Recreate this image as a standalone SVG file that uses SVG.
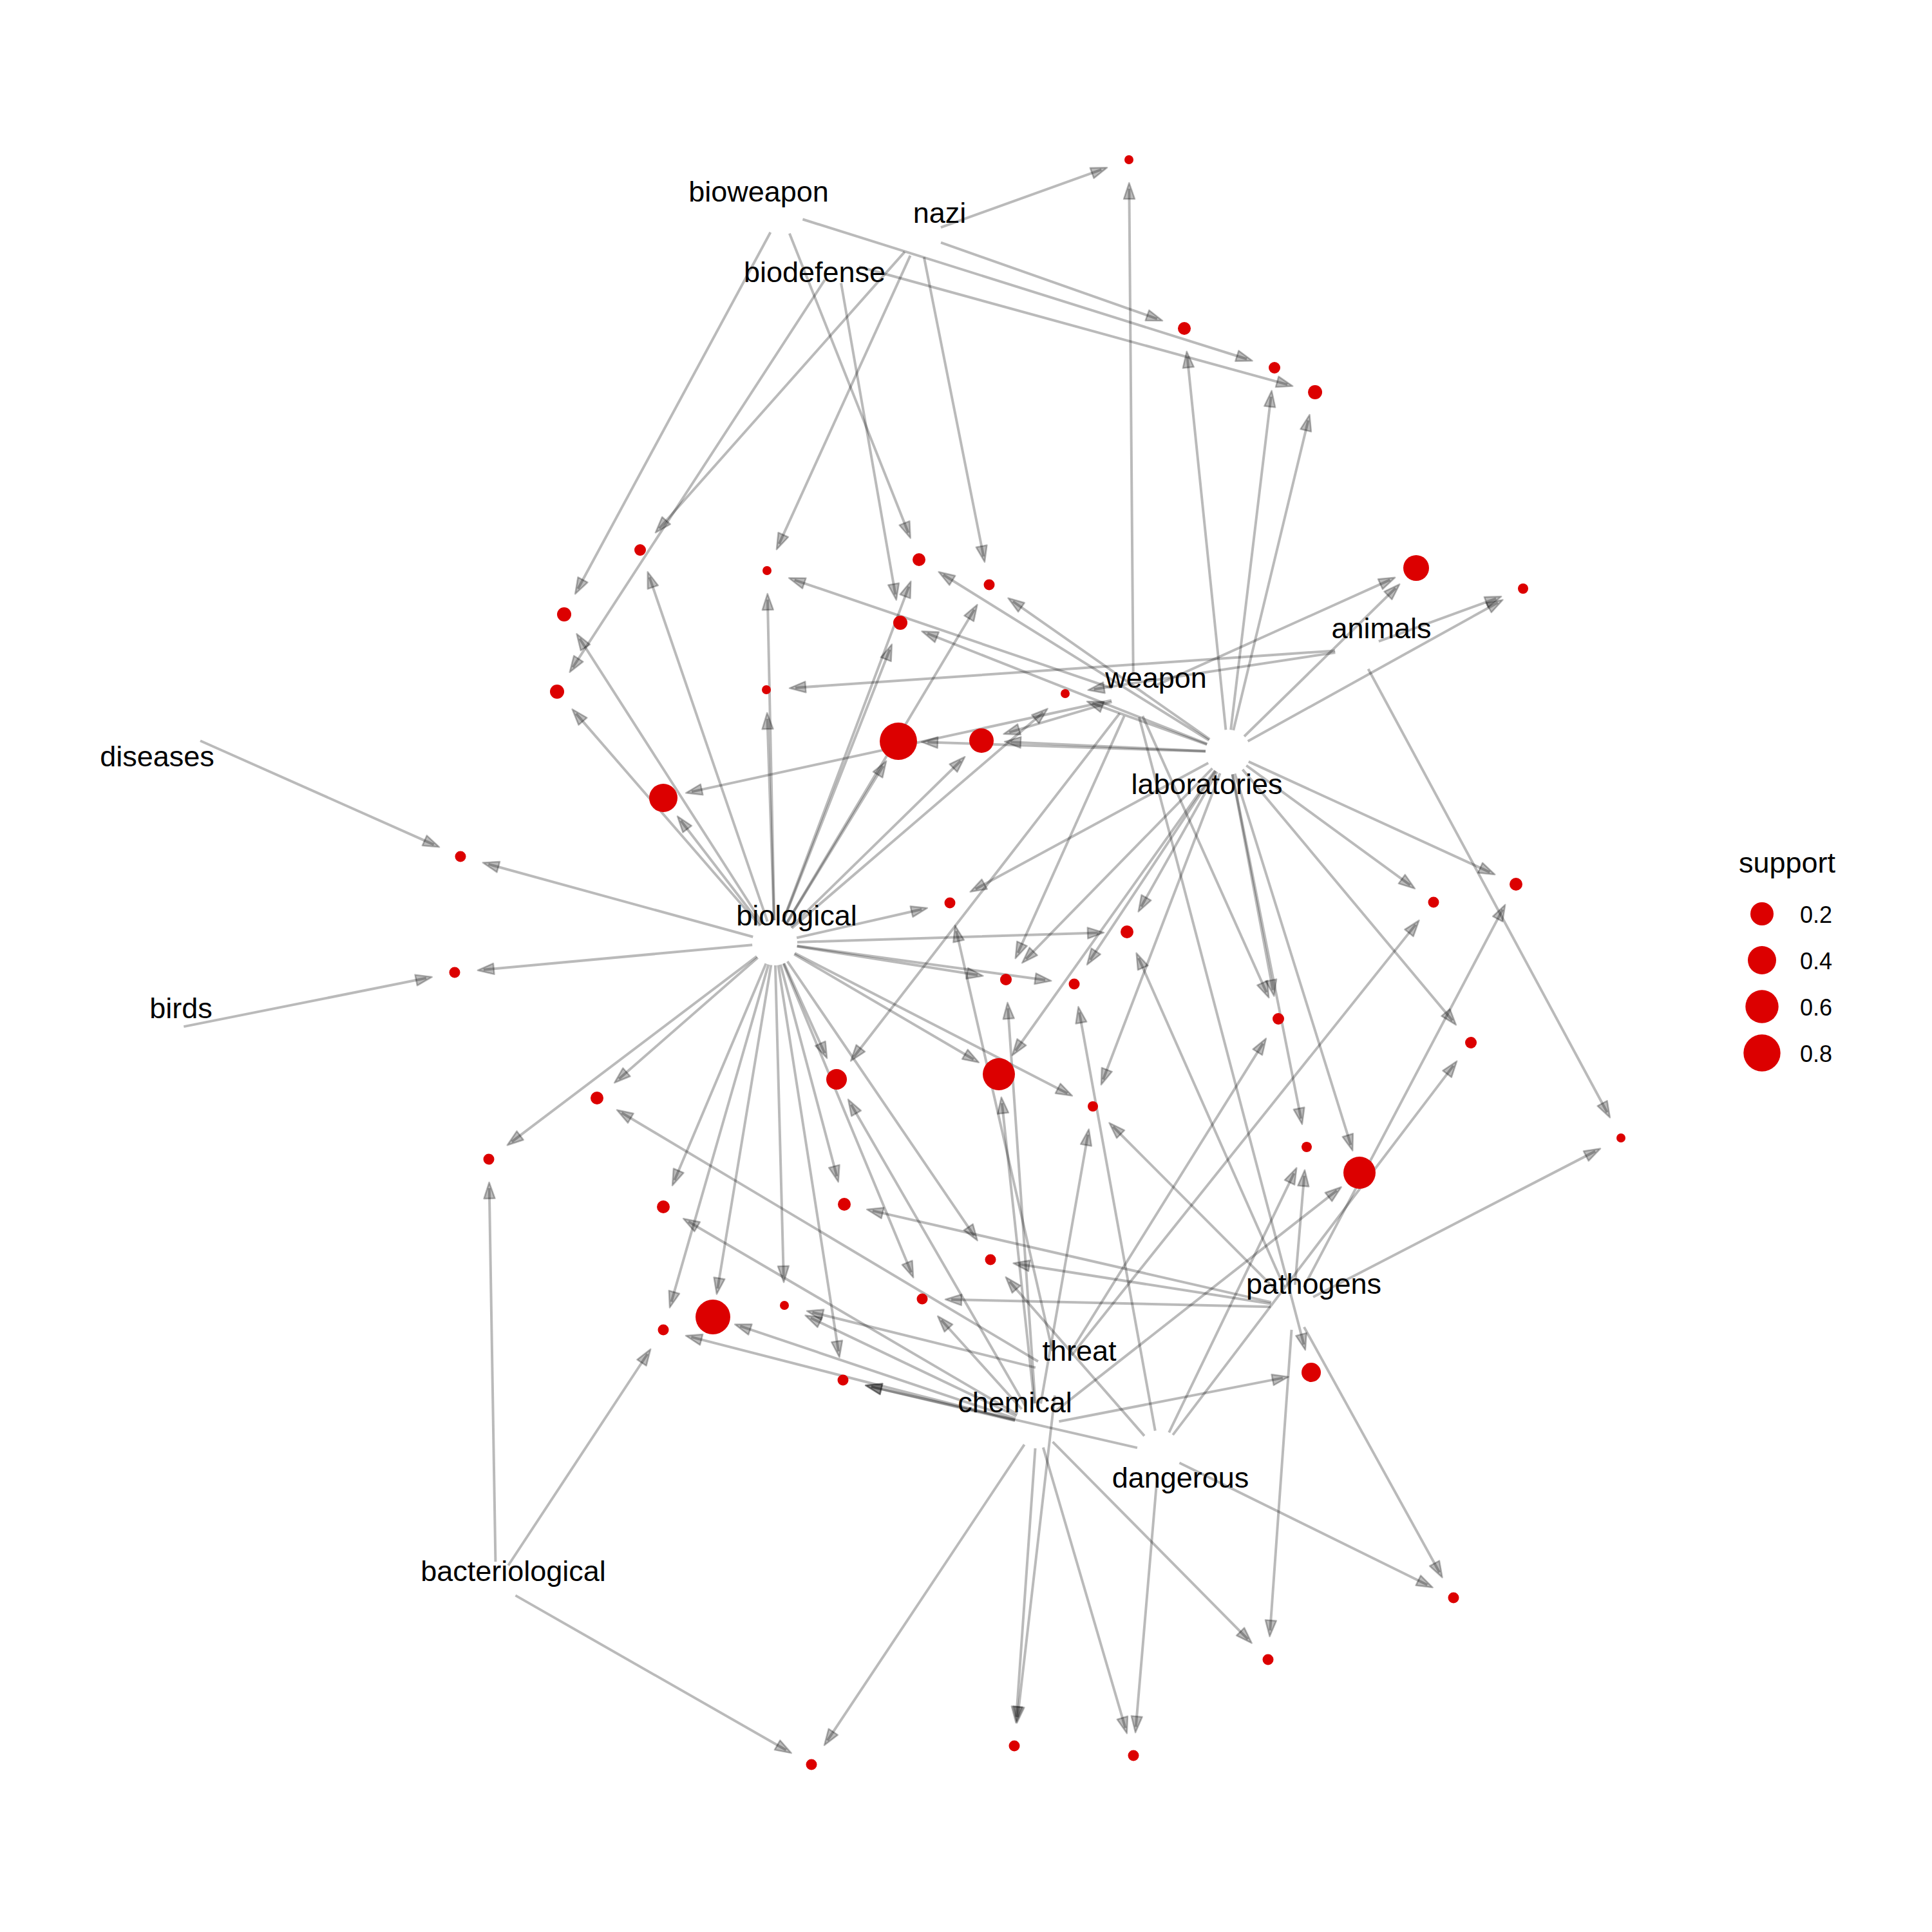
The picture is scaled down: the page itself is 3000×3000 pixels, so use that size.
<svg xmlns="http://www.w3.org/2000/svg" width="3000" height="3000" viewBox="0 0 3000 3000">
<style>
.e{stroke:#000;stroke-opacity:.27;stroke-width:4;fill:none;marker-end:url(#ah)}
.n{fill:#dc0000}
.lb{font-family:"Liberation Sans",Arial,Helvetica,sans-serif;font-size:45px;fill:#000;text-anchor:middle}
.lg{font-family:"Liberation Sans",Arial,Helvetica,sans-serif;fill:#000}
</style>
<defs>
<marker id="ah" markerUnits="userSpaceOnUse" orient="auto" markerWidth="80" markerHeight="30" viewBox="-70 -15 80 30" refX="0" refY="0">
<path d="M-36,0 L-61,-8.5 L-61,8.5 Z" fill="#000" fill-opacity=".27" stroke="#000" stroke-opacity=".27" stroke-width="2.5" stroke-linejoin="round"/>
</marker>
</defs>
<rect width="3000" height="3000" fill="#fff"/>
<g id="connectors">
<g id="from-bioweapon">
<line class="e" x1="1213" y1="330" x2="1979" y2="571" stroke-dasharray="0 35 723 4000"/>
<line class="e" x1="1213" y1="330" x2="876" y2="954" stroke-dasharray="0 35 629 4000"/>
<line class="e" x1="1213" y1="330" x2="1427" y2="869" stroke-dasharray="0 35 500 4000"/>
</g>
<g id="from-nazi">
<line class="e" x1="1428" y1="365" x2="1753" y2="248" stroke-dasharray="0 35 265 4000"/>
<line class="e" x1="1428" y1="365" x2="1839" y2="510" stroke-dasharray="0 35 356 4000"/>
<line class="e" x1="1428" y1="365" x2="994" y2="854" stroke-dasharray="0 35 574 4000"/>
<line class="e" x1="1428" y1="365" x2="1191" y2="886" stroke-dasharray="0 35 492 4000"/>
<line class="e" x1="1428" y1="365" x2="1536" y2="908" stroke-dasharray="0 35 474 4000"/>
</g>
<g id="from-biodefense">
<line class="e" x1="1300" y1="405" x2="2042" y2="609" stroke-dasharray="0 35 690 4000"/>
<line class="e" x1="1300" y1="405" x2="865" y2="1074" stroke-dasharray="0 35 718 4000"/>
<line class="e" x1="1300" y1="405" x2="1398" y2="967" stroke-dasharray="0 35 491 4000"/>
</g>
<g id="from-weapon">
<line class="e" x1="1760" y1="1080" x2="1753" y2="248" stroke-dasharray="0 35 752 4000"/>
<line class="e" x1="1760" y1="1080" x2="2199" y2="882" stroke-dasharray="0 35 402 4000"/>
<line class="e" x1="1760" y1="1080" x2="1191" y2="886" stroke-dasharray="0 35 521 4000"/>
<line class="e" x1="1760" y1="1080" x2="1524" y2="1150" stroke-dasharray="0 35 166 4000"/>
<line class="e" x1="1760" y1="1080" x2="1030" y2="1239" stroke-dasharray="0 35 667 4000"/>
<line class="e" x1="1760" y1="1080" x2="1562" y2="1521" stroke-dasharray="0 35 403 4000"/>
<line class="e" x1="1760" y1="1080" x2="1985" y2="1582" stroke-dasharray="0 35 470 4000"/>
<line class="e" x1="1760" y1="1080" x2="1299" y2="1676" stroke-dasharray="0 35 674 4000"/>
<line class="e" x1="1760" y1="1080" x2="2036" y2="2131" stroke-dasharray="0 35 1007 4000"/>
</g>
<g id="from-animals">
<line class="e" x1="2108" y1="1008" x2="2365" y2="914" stroke-dasharray="0 35 194 4000"/>
<line class="e" x1="2108" y1="1008" x2="1190" y2="1071" stroke-dasharray="0 35 840 4000"/>
<line class="e" x1="2108" y1="1008" x2="1654" y2="1077" stroke-dasharray="0 35 379 4000"/>
<line class="e" x1="2108" y1="1008" x2="2517" y2="1767" stroke-dasharray="0 35 782 4000"/>
</g>
<g id="from-laboratories">
<line class="e" x1="1907" y1="1168" x2="1839" y2="510" stroke-dasharray="0 35 582 4000"/>
<line class="e" x1="1907" y1="1168" x2="1979" y2="571" stroke-dasharray="0 35 521 4000"/>
<line class="e" x1="1907" y1="1168" x2="2042" y2="609" stroke-dasharray="0 35 495 4000"/>
<line class="e" x1="1907" y1="1168" x2="2199" y2="882" stroke-dasharray="0 35 329 4000"/>
<line class="e" x1="1907" y1="1168" x2="2365" y2="914" stroke-dasharray="0 35 444 4000"/>
<line class="e" x1="1907" y1="1168" x2="1427" y2="869" stroke-dasharray="0 35 486 4000"/>
<line class="e" x1="1907" y1="1168" x2="1536" y2="908" stroke-dasharray="0 35 373 4000"/>
<line class="e" x1="1907" y1="1168" x2="1398" y2="967" stroke-dasharray="0 35 467 4000"/>
<line class="e" x1="1907" y1="1168" x2="1654" y2="1077" stroke-dasharray="0 35 189 4000"/>
<line class="e" x1="1907" y1="1168" x2="1395" y2="1151" stroke-dasharray="0 35 432 4000"/>
<line class="e" x1="1907" y1="1168" x2="1524" y2="1150" stroke-dasharray="0 35 303 4000"/>
<line class="e" x1="1907" y1="1168" x2="1475" y2="1402" stroke-dasharray="0 35 411 4000"/>
<line class="e" x1="1907" y1="1168" x2="1750" y2="1447" stroke-dasharray="0 35 240 4000"/>
<line class="e" x1="1907" y1="1168" x2="1562" y2="1521" stroke-dasharray="0 35 414 4000"/>
<line class="e" x1="1907" y1="1168" x2="1668" y2="1528" stroke-dasharray="0 35 352 4000"/>
<line class="e" x1="1907" y1="1168" x2="2226" y2="1401" stroke-dasharray="0 35 315 4000"/>
<line class="e" x1="1907" y1="1168" x2="2354" y2="1373" stroke-dasharray="0 35 412 4000"/>
<line class="e" x1="1907" y1="1168" x2="1985" y2="1582" stroke-dasharray="0 35 341 4000"/>
<line class="e" x1="1907" y1="1168" x2="2284" y2="1619" stroke-dasharray="0 35 508 4000"/>
<line class="e" x1="1907" y1="1168" x2="1551" y2="1668" stroke-dasharray="0 35 534 4000"/>
<line class="e" x1="1907" y1="1168" x2="1697" y2="1718" stroke-dasharray="0 35 509 4000"/>
<line class="e" x1="1907" y1="1168" x2="2029" y2="1781" stroke-dasharray="0 35 545 4000"/>
<line class="e" x1="1907" y1="1168" x2="2111" y2="1821" stroke-dasharray="0 35 604 4000"/>
</g>
<g id="from-diseases">
<line class="e" x1="279" y1="1136" x2="715" y2="1330" stroke-dasharray="0 35 397 4000"/>
</g>
<g id="from-birds">
<line class="e" x1="251" y1="1601" x2="706" y2="1510" stroke-dasharray="0 35 384 4000"/>
</g>
<g id="from-biological">
<line class="e" x1="1203" y1="1464" x2="994" y2="854" stroke-dasharray="0 35 565 4000"/>
<line class="e" x1="1203" y1="1464" x2="876" y2="954" stroke-dasharray="0 35 526 4000"/>
<line class="e" x1="1203" y1="1464" x2="865" y2="1074" stroke-dasharray="0 35 436 4000"/>
<line class="e" x1="1203" y1="1464" x2="1191" y2="886" stroke-dasharray="0 35 498 4000"/>
<line class="e" x1="1203" y1="1464" x2="1427" y2="869" stroke-dasharray="0 35 556 4000"/>
<line class="e" x1="1203" y1="1464" x2="1536" y2="908" stroke-dasharray="0 35 568 4000"/>
<line class="e" x1="1203" y1="1464" x2="1398" y2="967" stroke-dasharray="0 35 454 4000"/>
<line class="e" x1="1203" y1="1464" x2="1190" y2="1071" stroke-dasharray="0 35 313 4000"/>
<line class="e" x1="1203" y1="1464" x2="1654" y2="1077" stroke-dasharray="0 35 514 4000"/>
<line class="e" x1="1203" y1="1464" x2="1395" y2="1151" stroke-dasharray="0 35 287 4000"/>
<line class="e" x1="1203" y1="1464" x2="1524" y2="1150" stroke-dasharray="0 35 369 4000"/>
<line class="e" x1="1203" y1="1464" x2="1030" y2="1239" stroke-dasharray="0 35 204 4000"/>
<line class="e" x1="1203" y1="1464" x2="715" y2="1330" stroke-dasharray="0 35 426 4000"/>
<line class="e" x1="1203" y1="1464" x2="706" y2="1510" stroke-dasharray="0 35 419 4000"/>
<line class="e" x1="1203" y1="1464" x2="1475" y2="1402" stroke-dasharray="0 35 199 4000"/>
<line class="e" x1="1203" y1="1464" x2="1750" y2="1447" stroke-dasharray="0 35 467 4000"/>
<line class="e" x1="1203" y1="1464" x2="1562" y2="1521" stroke-dasharray="0 35 284 4000"/>
<line class="e" x1="1203" y1="1464" x2="1668" y2="1528" stroke-dasharray="0 35 389 4000"/>
<line class="e" x1="1203" y1="1464" x2="927" y2="1705" stroke-dasharray="0 35 286 4000"/>
<line class="e" x1="1203" y1="1464" x2="1299" y2="1676" stroke-dasharray="0 35 153 4000"/>
<line class="e" x1="1203" y1="1464" x2="1551" y2="1668" stroke-dasharray="0 35 323 4000"/>
<line class="e" x1="1203" y1="1464" x2="1697" y2="1718" stroke-dasharray="0 35 476 4000"/>
<line class="e" x1="1203" y1="1464" x2="759" y2="1800" stroke-dasharray="0 35 477 4000"/>
<line class="e" x1="1203" y1="1464" x2="1030" y2="1874" stroke-dasharray="0 35 365 4000"/>
<line class="e" x1="1203" y1="1464" x2="1311" y2="1870" stroke-dasharray="0 35 340 4000"/>
<line class="e" x1="1203" y1="1464" x2="1538" y2="1956" stroke-dasharray="0 35 515 4000"/>
<line class="e" x1="1203" y1="1464" x2="1432" y2="2017" stroke-dasharray="0 35 519 4000"/>
<line class="e" x1="1203" y1="1464" x2="1218" y2="2027" stroke-dasharray="0 35 483 4000"/>
<line class="e" x1="1203" y1="1464" x2="1107" y2="2045" stroke-dasharray="0 35 509 4000"/>
<line class="e" x1="1203" y1="1464" x2="1030" y2="2065" stroke-dasharray="0 35 545 4000"/>
<line class="e" x1="1203" y1="1464" x2="1309" y2="2143" stroke-dasharray="0 35 607 4000"/>
</g>
<g id="from-bacteriological">
<line class="e" x1="770" y1="2460" x2="759" y2="1800" stroke-dasharray="0 35 580 4000"/>
<line class="e" x1="770" y1="2460" x2="1030" y2="2065" stroke-dasharray="0 35 393 4000"/>
<line class="e" x1="770" y1="2460" x2="1260" y2="2740" stroke-dasharray="0 35 484 4000"/>
</g>
<g id="from-pathogens">
<line class="e" x1="2008" y1="2030" x2="1750" y2="1447" stroke-dasharray="0 35 558 4000"/>
<line class="e" x1="2008" y1="2030" x2="2354" y2="1373" stroke-dasharray="0 35 663 4000"/>
<line class="e" x1="2008" y1="2030" x2="1697" y2="1718" stroke-dasharray="0 35 361 4000"/>
<line class="e" x1="2008" y1="2030" x2="2029" y2="1781" stroke-dasharray="0 35 170 4000"/>
<line class="e" x1="2008" y1="2030" x2="2517" y2="1767" stroke-dasharray="0 35 493 4000"/>
<line class="e" x1="2008" y1="2030" x2="1311" y2="1870" stroke-dasharray="0 35 635 4000"/>
<line class="e" x1="2008" y1="2030" x2="1538" y2="1956" stroke-dasharray="0 35 396 4000"/>
<line class="e" x1="2008" y1="2030" x2="1432" y2="2017" stroke-dasharray="0 35 496 4000"/>
<line class="e" x1="2008" y1="2030" x2="1969" y2="2577" stroke-dasharray="0 35 468 4000"/>
<line class="e" x1="2008" y1="2030" x2="2257" y2="2481" stroke-dasharray="0 35 435 4000"/>
</g>
<g id="from-threat">
<line class="e" x1="1642" y1="2132" x2="1475" y2="1402" stroke-dasharray="0 35 669 4000"/>
<line class="e" x1="1642" y1="2132" x2="2226" y2="1401" stroke-dasharray="0 35 856 4000"/>
<line class="e" x1="1642" y1="2132" x2="1985" y2="1582" stroke-dasharray="0 35 568 4000"/>
<line class="e" x1="1642" y1="2132" x2="927" y2="1705" stroke-dasharray="0 35 753 4000"/>
<line class="e" x1="1642" y1="2132" x2="1218" y2="2027" stroke-dasharray="0 35 357 4000"/>
<line class="e" x1="1642" y1="2132" x2="1575" y2="2711" stroke-dasharray="0 35 503 4000"/>
</g>
<g id="from-chemical">
<line class="e" x1="1610" y1="2214" x2="1562" y2="1521" stroke-dasharray="0 35 615 4000"/>
<line class="e" x1="1610" y1="2214" x2="1299" y2="1676" stroke-dasharray="0 35 541 4000"/>
<line class="e" x1="1610" y1="2214" x2="1551" y2="1668" stroke-dasharray="0 35 469 4000"/>
<line class="e" x1="1610" y1="2214" x2="1697" y2="1718" stroke-dasharray="0 35 424 4000"/>
<line class="e" x1="1610" y1="2214" x2="2111" y2="1821" stroke-dasharray="0 35 557 4000"/>
<line class="e" x1="1610" y1="2214" x2="1030" y2="1874" stroke-dasharray="0 35 592 4000"/>
<line class="e" x1="1610" y1="2214" x2="1432" y2="2017" stroke-dasharray="0 35 186 4000"/>
<line class="e" x1="1610" y1="2214" x2="1218" y2="2027" stroke-dasharray="0 35 354 4000"/>
<line class="e" x1="1610" y1="2214" x2="1107" y2="2045" stroke-dasharray="0 35 451 4000"/>
<line class="e" x1="1610" y1="2214" x2="1030" y2="2065" stroke-dasharray="0 35 519 4000"/>
<line class="e" x1="1610" y1="2214" x2="1309" y2="2143" stroke-dasharray="0 35 229 4000"/>
<line class="e" x1="1610" y1="2214" x2="2036" y2="2131" stroke-dasharray="0 35 354 4000"/>
<line class="e" x1="1610" y1="2214" x2="1260" y2="2740" stroke-dasharray="0 35 552 4000"/>
<line class="e" x1="1610" y1="2214" x2="1575" y2="2711" stroke-dasharray="0 35 418 4000"/>
<line class="e" x1="1610" y1="2214" x2="1760" y2="2726" stroke-dasharray="0 35 454 4000"/>
<line class="e" x1="1610" y1="2214" x2="1969" y2="2577" stroke-dasharray="0 35 431 4000"/>
</g>
<g id="from-dangerous">
<line class="e" x1="1800" y1="2256" x2="1668" y2="1528" stroke-dasharray="0 35 660 4000"/>
<line class="e" x1="1800" y1="2256" x2="2284" y2="1619" stroke-dasharray="0 35 720 4000"/>
<line class="e" x1="1800" y1="2256" x2="2029" y2="1781" stroke-dasharray="0 35 447 4000"/>
<line class="e" x1="1800" y1="2256" x2="1538" y2="1956" stroke-dasharray="0 35 318 4000"/>
<line class="e" x1="1800" y1="2256" x2="1309" y2="2143" stroke-dasharray="0 35 424 4000"/>
<line class="e" x1="1800" y1="2256" x2="1760" y2="2726" stroke-dasharray="0 35 392 4000"/>
<line class="e" x1="1800" y1="2256" x2="2257" y2="2481" stroke-dasharray="0 35 429 4000"/>
</g>
</g>
<g id="rules">
<g id="rule1"><circle class="n" cx="1753" cy="248" r="7"/></g>
<g id="rule2"><circle class="n" cx="1839" cy="510" r="10"/></g>
<g id="rule3"><circle class="n" cx="1979" cy="571" r="9"/></g>
<g id="rule4"><circle class="n" cx="2042" cy="609" r="11"/></g>
<g id="rule5"><circle class="n" cx="2199" cy="882" r="20"/></g>
<g id="rule6"><circle class="n" cx="2365" cy="914" r="8"/></g>
<g id="rule7"><circle class="n" cx="994" cy="854" r="9"/></g>
<g id="rule8"><circle class="n" cx="876" cy="954" r="11"/></g>
<g id="rule9"><circle class="n" cx="865" cy="1074" r="11"/></g>
<g id="rule10"><circle class="n" cx="1191" cy="886" r="7"/></g>
<g id="rule11"><circle class="n" cx="1427" cy="869" r="10"/></g>
<g id="rule12"><circle class="n" cx="1536" cy="908" r="8.5"/></g>
<g id="rule13"><circle class="n" cx="1398" cy="967" r="11"/></g>
<g id="rule14"><circle class="n" cx="1190" cy="1071" r="7"/></g>
<g id="rule15"><circle class="n" cx="1654" cy="1077" r="7"/></g>
<g id="rule16"><circle class="n" cx="1395" cy="1151" r="29"/></g>
<g id="rule17"><circle class="n" cx="1524" cy="1150" r="19"/></g>
<g id="rule18"><circle class="n" cx="1030" cy="1239" r="22"/></g>
<g id="rule19"><circle class="n" cx="715" cy="1330" r="8.5"/></g>
<g id="rule20"><circle class="n" cx="706" cy="1510" r="8.5"/></g>
<g id="rule21"><circle class="n" cx="1475" cy="1402" r="8.5"/></g>
<g id="rule22"><circle class="n" cx="1750" cy="1447" r="10"/></g>
<g id="rule23"><circle class="n" cx="1562" cy="1521" r="9"/></g>
<g id="rule24"><circle class="n" cx="1668" cy="1528" r="8.5"/></g>
<g id="rule25"><circle class="n" cx="2226" cy="1401" r="8.5"/></g>
<g id="rule26"><circle class="n" cx="2354" cy="1373" r="10"/></g>
<g id="rule27"><circle class="n" cx="1985" cy="1582" r="9"/></g>
<g id="rule28"><circle class="n" cx="2284" cy="1619" r="9"/></g>
<g id="rule29"><circle class="n" cx="927" cy="1705" r="10"/></g>
<g id="rule30"><circle class="n" cx="1299" cy="1676" r="16"/></g>
<g id="rule31"><circle class="n" cx="1551" cy="1668" r="25"/></g>
<g id="rule32"><circle class="n" cx="1697" cy="1718" r="8"/></g>
<g id="rule33"><circle class="n" cx="759" cy="1800" r="8.5"/></g>
<g id="rule34"><circle class="n" cx="2029" cy="1781" r="8"/></g>
<g id="rule35"><circle class="n" cx="2111" cy="1821" r="25"/></g>
<g id="rule36"><circle class="n" cx="2517" cy="1767" r="7"/></g>
<g id="rule37"><circle class="n" cx="1030" cy="1874" r="10"/></g>
<g id="rule38"><circle class="n" cx="1311" cy="1870" r="10"/></g>
<g id="rule39"><circle class="n" cx="1538" cy="1956" r="8.5"/></g>
<g id="rule40"><circle class="n" cx="1432" cy="2017" r="8.5"/></g>
<g id="rule41"><circle class="n" cx="1218" cy="2027" r="7"/></g>
<g id="rule42"><circle class="n" cx="1107" cy="2045" r="27"/></g>
<g id="rule43"><circle class="n" cx="1030" cy="2065" r="8.5"/></g>
<g id="rule44"><circle class="n" cx="1309" cy="2143" r="8.5"/></g>
<g id="rule45"><circle class="n" cx="2036" cy="2131" r="15"/></g>
<g id="rule46"><circle class="n" cx="1260" cy="2740" r="8.5"/></g>
<g id="rule47"><circle class="n" cx="1575" cy="2711" r="8.5"/></g>
<g id="rule48"><circle class="n" cx="1760" cy="2726" r="8.5"/></g>
<g id="rule49"><circle class="n" cx="1969" cy="2577" r="8.5"/></g>
<g id="rule50"><circle class="n" cx="2257" cy="2481" r="8.5"/></g>
</g>
<g id="items">
<g id="item-bioweapon"><text class="lb" x="1178" y="313">bioweapon</text></g>
<g id="item-nazi"><text class="lb" x="1459" y="346">nazi</text></g>
<g id="item-biodefense"><text class="lb" x="1265" y="438">biodefense</text></g>
<g id="item-weapon"><text class="lb" x="1795" y="1068">weapon</text></g>
<g id="item-animals"><text class="lb" x="2145" y="991">animals</text></g>
<g id="item-laboratories"><text class="lb" x="1874" y="1233">laboratories</text></g>
<g id="item-diseases"><text class="lb" x="244" y="1190">diseases</text></g>
<g id="item-birds"><text class="lb" x="281" y="1581">birds</text></g>
<g id="item-biological"><text class="lb" x="1237" y="1437">biological</text></g>
<g id="item-pathogens"><text class="lb" x="2040" y="2009">pathogens</text></g>
<g id="item-threat"><text class="lb" x="1676" y="2113">threat</text></g>
<g id="item-chemical"><text class="lb" x="1576" y="2193">chemical</text></g>
<g id="item-dangerous"><text class="lb" x="1833" y="2310">dangerous</text></g>
<g id="item-bacteriological"><text class="lb" x="797" y="2455">bacteriological</text></g>
</g>
<g id="legend">
<text class="lg" x="2700" y="1355" font-size="45">support</text>
<circle class="n" cx="2736" cy="1419" r="18"/>
<circle class="n" cx="2736" cy="1491" r="22"/>
<circle class="n" cx="2736" cy="1563" r="25.7"/>
<circle class="n" cx="2736" cy="1635" r="28.7"/>
<text class="lg" x="2795" y="1433" font-size="36">0.2</text>
<text class="lg" x="2795" y="1505" font-size="36">0.4</text>
<text class="lg" x="2795" y="1577" font-size="36">0.6</text>
<text class="lg" x="2795" y="1649" font-size="36">0.8</text>
</g>
</svg>
